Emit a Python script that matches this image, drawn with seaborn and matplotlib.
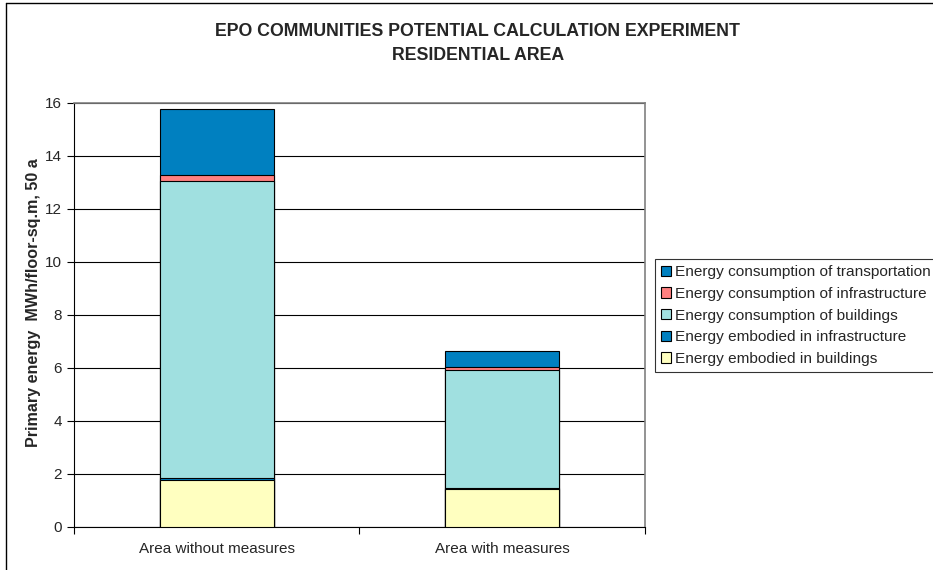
import numpy as np
import pandas as pd
import matplotlib
matplotlib.use('Agg')
import matplotlib.pyplot as plt
from matplotlib.patches import Patch
from matplotlib.lines import Line2D
import seaborn as sns

# === data (MWh/floor-sq.m, 50 a) ===
areas = ['Area without measures', 'Area with measures']
components = [
    'Energy embodied in buildings',
    'Energy embodied in infrastructure',
    'Energy consumption of buildings',
    'Energy consumption of infrastructure',
    'Energy consumption of transportation',
]
embodied_buildings = [1.78, 1.43]
embodied_infra = [0.07, 0.03]
consumption_buildings = [11.19, 4.47]
consumption_infra = [0.23, 0.08]
consumption_transport = [2.49, 0.63]

colors = ['#FFFFC0', '#0080C0', '#A0E0E0', '#FF8080', '#0080C0']

values = np.array([embodied_buildings, embodied_infra, consumption_buildings,
                   consumption_infra, consumption_transport])
cumulative = values.cumsum(axis=0)

sns.set_style('white')
plt.rcParams['font.family'] = ['Liberation Sans', 'DejaVu Sans']

fig = plt.figure(figsize=(9.33, 5.70), dpi=100)
ax = fig.add_axes([0.0793, 0.076, 0.6117, 0.7438])

# stacked bars: draw cumulative totals from the top segment down
for i in reversed(range(len(components))):
    df = pd.DataFrame({'area': areas, 'value': cumulative[i]})
    sns.barplot(data=df, x='area', y='value', color=colors[i], saturation=1,
                width=0.4, edgecolor='black', linewidth=0.8, ax=ax, zorder=3)

ax.set_ylim(0, 16)
ax.set_xlim(-0.5, 1.5)
ax.set_yticks(range(0, 17, 2))
ax.yaxis.grid(True, color='black', linewidth=0.8)
ax.set_axisbelow(True)
ax.set_xlabel('')
ax.set_ylabel('')

ax.tick_params(axis='y', direction='out', length=5, width=0.8, color='black', labelsize=11, left=True)
ax.tick_params(axis='x', which='major', length=0, labelsize=11, pad=11)
ax.set_xticks([-0.5, 0.5, 1.5], minor=True)
ax.tick_params(axis='x', which='minor', direction='out', length=5, width=0.8, color='black', bottom=True)

for side in ['left', 'bottom']:
    ax.spines[side].set_color('black')
    ax.spines[side].set_linewidth(0.8)
for side in ['top', 'right']:
    ax.spines[side].set_visible(True)
    ax.spines[side].set_color('#808080')
    ax.spines[side].set_linewidth(1.2)

fig.text(0.0354, 0.4684, 'Primary energy  MWh/floor-sq.m, 50 a', rotation=90,
         ha='center', va='center', fontsize=11.6, fontweight='bold')

fig.text(0.512, 0.945, 'EPO COMMUNITIES POTENTIAL CALCULATION EXPERIMENT',
         ha='center', va='center', fontsize=12.8, fontweight='bold')
fig.text(0.512, 0.903, 'RESIDENTIAL AREA',
         ha='center', va='center', fontsize=12.8, fontweight='bold')

handles = [Patch(facecolor=colors[i], edgecolor='black', linewidth=0.8, label=components[i])
           for i in reversed(range(len(components)))]
leg = fig.legend(handles=handles, loc='upper left', bbox_to_anchor=(0.702, 0.5456),
                 fontsize=11.1, frameon=True, fancybox=False, edgecolor='black',
                 handlelength=0.65, handleheight=0.65, handletextpad=0.28,
                 labelspacing=0.5, borderpad=0.4, borderaxespad=0)
leg.get_frame().set_linewidth(0.8)

# chart outer frame (top and left edges visible)
fig.add_artist(Line2D([0.006, 0.006], [0.0, 0.995], transform=fig.transFigure, color='black', linewidth=1))
fig.add_artist(Line2D([0.006, 1.0], [0.995, 0.995], transform=fig.transFigure, color='black', linewidth=1))

fig.savefig('out.png', dpi=100)
